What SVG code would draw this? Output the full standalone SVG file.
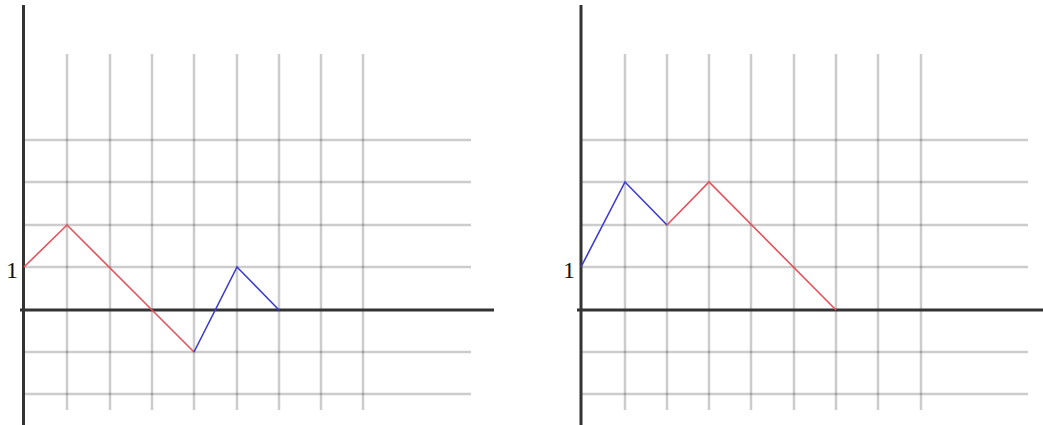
<svg xmlns="http://www.w3.org/2000/svg" width="1043" height="425" viewBox="0 0 1043 425">
<style>
.grid{stroke:#000;stroke-opacity:0.2;stroke-width:2.5;fill:none}
.axis{stroke:#333;stroke-width:3;fill:none}
.red{stroke:#e8505a;stroke-width:1.6;fill:none}
.blue{stroke:#3b3bd6;stroke-width:1.6;fill:none}
.lbl{font-family:"Liberation Serif",serif;font-size:24px;fill:#111}
</style>
<rect width="1043" height="425" fill="#fff"/>
<g id="left-panel">
  <g id="left-grid">
    <path class="grid" d="M67,54V410M110,54V410M152,54V410M194,54V410M237,54V410M279,54V410M321,54V410M363,54V410"/>
    <path class="grid" d="M24,140H471M24,182H471M24,225H471M24,267H471M24,352H471M24,394H471"/>
  </g>
  <g id="left-axes">
    <path class="axis" d="M23.5,5V425"/>
    <path class="axis" d="M20,310H494"/>
  </g>
  <text class="lbl" x="6" y="278">1</text>
  <g id="left-path">
    <polyline class="red" points="24,267 67,225 152,310 194,352"/>
    <polyline class="blue" points="194,352 237,267 279,310"/>
  </g>
</g>
<g id="right-panel">
  <g id="right-grid">
    <path class="grid" d="M625,54V410M667,54V410M709,54V410M751,54V410M794,54V410M836,54V410M878,54V410M921,54V410"/>
    <path class="grid" d="M581,140H1028M581,182H1028M581,225H1028M581,267H1028M581,352H1028M581,394H1028"/>
  </g>
  <g id="right-axes">
    <path class="axis" d="M581,5V425"/>
    <path class="axis" d="M577,310H1043"/>
  </g>
  <text class="lbl" x="563" y="278">1</text>
  <g id="right-path">
    <polyline class="blue" points="581,267 625,182 667,225"/>
    <polyline class="red" points="667,225 709,182 836,310"/>
  </g>
</g>
</svg>
